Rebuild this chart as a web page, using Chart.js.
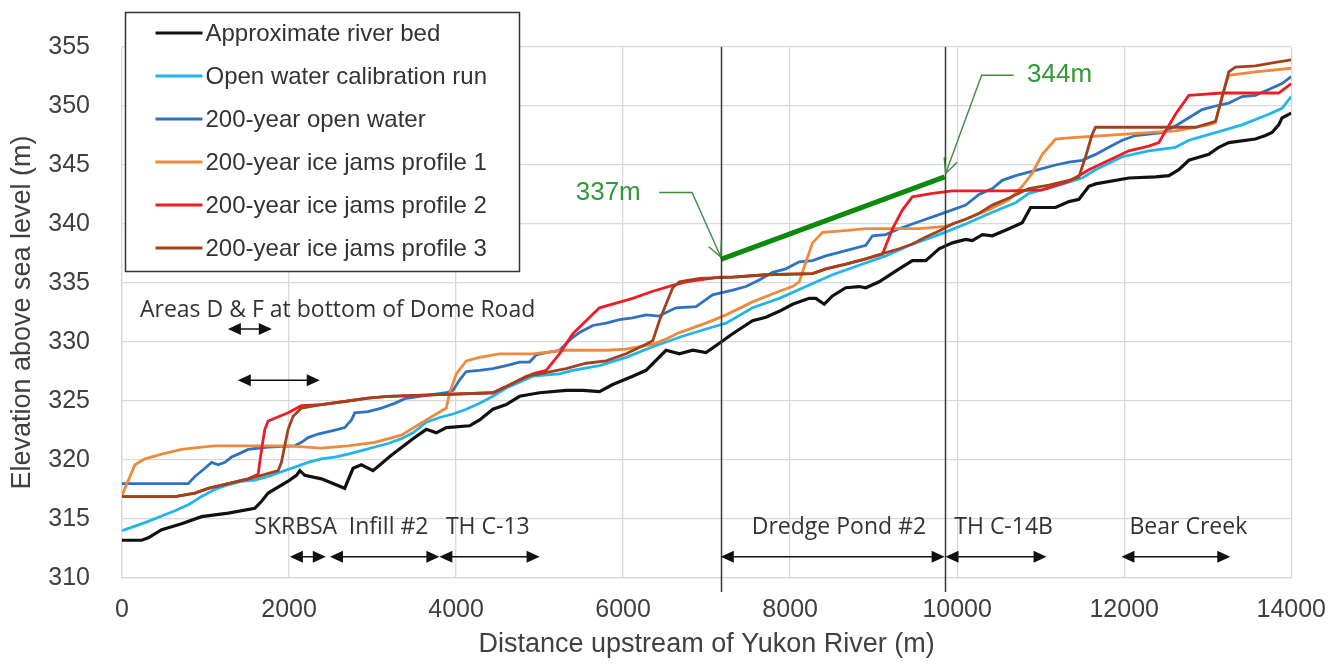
<!DOCTYPE html>
<html>
<head>
<meta charset="utf-8">
<script src="https://cdn.jsdelivr.net/npm/chart.js@4.4.1/dist/chart.umd.min.js"></script>
<style>
  html, body { margin: 0; padding: 0; background: #fff; }
</style>
</head>
<body>
<canvas id="profileChart" width="1343" height="665"></canvas>
<script>
// Series names (legend order)
const seriesNames = [
  'Approximate river bed',
  'Open water calibration run',
  '200-year open water',
  '200-year ice jams profile 1',
  '200-year ice jams profile 2',
  '200-year ice jams profile 3'
];
const seriesColors = ['#111111', '#22b4ec', '#2f72c2', '#ef8a3c', '#ee1c25', '#a3411c'];

// Approximate river bed
const bedDist = [0, 235, 315, 475, 714, 953, 1272, 1590, 1671, 1750, 1989, 2089, 2129, 2189, 2388, 2667, 2707, 2767, 2866, 3006, 3225, 3484, 3644, 3764, 3883, 4162, 4282, 4441, 4601, 4760, 4999, 5318, 5518, 5717, 5876, 6115, 6275, 6514, 6674, 6833, 6993, 7152, 7311, 7550, 7710, 7870, 8029, 8228, 8308, 8408, 8507, 8667, 8826, 8906, 9066, 9305, 9464, 9624, 9783, 9943, 10102, 10182, 10302, 10421, 10620, 10779, 10879, 11178, 11338, 11458, 11577, 11657, 12056, 12375, 12535, 12654, 12774, 13013, 13132, 13252, 13571, 13691, 13770, 13850, 13890, 14000];
const bedElev = [313.2, 313.2, 313.4, 314.1, 314.6, 315.2, 315.5, 315.9, 316.5, 317.2, 318.2, 318.7, 319.1, 318.7, 318.4, 317.6, 318.3, 319.3, 319.6, 319.1, 320.4, 321.8, 322.6, 322.3, 322.75, 322.9, 323.4, 324.3, 324.7, 325.4, 325.7, 325.9, 325.9, 325.8, 326.4, 327.1, 327.6, 329.3, 329.0, 329.3, 329.1, 329.9, 330.7, 331.8, 332.1, 332.6, 333.2, 333.7, 333.7, 333.2, 333.9, 334.6, 334.7, 334.6, 335.1, 336.2, 336.9, 336.9, 337.9, 338.4, 338.7, 338.6, 339.1, 339.0, 339.6, 340.1, 341.4, 341.4, 341.9, 342.1, 343.2, 343.4, 343.9, 344.0, 344.1, 344.6, 345.4, 345.9, 346.5, 346.9, 347.2, 347.5, 347.75, 348.4, 349.0, 349.4];

// Open water calibration run
const calibDist = [0, 155, 315, 475, 634, 793, 953, 1112, 1272, 1431, 1590, 1750, 1909, 2069, 2228, 2388, 2547, 2707, 2866, 3026, 3185, 3345, 3484, 3644, 3803, 3963, 4122, 4282, 4441, 4601, 4760, 4919, 5238, 5398, 5717, 6036, 6355, 6674, 6993, 7232, 7550, 7870, 8189, 8507, 8826, 9145, 9464, 9783, 10102, 10421, 10700, 10859, 11178, 11497, 11657, 11976, 12295, 12614, 12774, 13093, 13411, 13730, 13890, 14000];
const calibElev = [314.0, 314.4, 314.8, 315.25, 315.7, 316.2, 316.9, 317.5, 317.9, 318.2, 318.3, 318.6, 319.0, 319.4, 319.8, 320.1, 320.25, 320.5, 320.8, 321.1, 321.4, 321.8, 322.3, 323.2, 323.6, 323.9, 324.3, 324.8, 325.4, 326.1, 326.6, 327.1, 327.3, 327.6, 328.0, 328.7, 329.6, 330.4, 331.1, 331.6, 332.9, 333.7, 334.7, 335.7, 336.5, 337.3, 338.3, 339.1, 340.0, 341.0, 341.8, 342.6, 343.2, 343.9, 344.6, 345.7, 346.2, 346.5, 347.1, 347.75, 348.4, 349.3, 349.8, 350.8];

// 200-year open water
const openDist = [0, 793, 873, 993, 1073, 1152, 1232, 1312, 1391, 1511, 1750, 2069, 2149, 2228, 2348, 2587, 2667, 2747, 2787, 2946, 3106, 3265, 3385, 3564, 3883, 3963, 4043, 4122, 4282, 4441, 4601, 4760, 4880, 4959, 5079, 5238, 5398, 5478, 5637, 5797, 5956, 6115, 6275, 6434, 6514, 6634, 6873, 6953, 7072, 7311, 7471, 7630, 7790, 7949, 8109, 8268, 8428, 8587, 8747, 8906, 8986, 9145, 9305, 9464, 9624, 9783, 9943, 10102, 10262, 10421, 10540, 10700, 10859, 11178, 11338, 11497, 11657, 11816, 11976, 12136, 12455, 12614, 12774, 12933, 13093, 13252, 13411, 13571, 13730, 13890, 14000];
const openElev = [318.0, 318.0, 318.6, 319.3, 319.8, 319.6, 319.8, 320.25, 320.5, 320.9, 321.1, 321.2, 321.5, 321.9, 322.2, 322.6, 322.75, 323.4, 324.0, 324.1, 324.4, 324.8, 325.2, 325.4, 325.7, 325.9, 326.8, 327.5, 327.6, 327.75, 328.0, 328.3, 328.3, 328.9, 329.1, 329.3, 330.4, 330.8, 331.4, 331.6, 331.9, 332.05, 332.3, 332.2, 332.5, 332.9, 333.0, 333.4, 334.0, 334.4, 334.7, 335.25, 335.9, 336.2, 336.8, 336.9, 337.3, 337.6, 337.9, 338.2, 339.0, 339.1, 339.6, 340.0, 340.4, 340.8, 341.2, 341.6, 342.5, 343.0, 343.7, 344.1, 344.4, 345.0, 345.25, 345.4, 345.9, 346.5, 347.1, 347.5, 347.75, 348.3, 349.0, 349.7, 350.0, 350.25, 350.8, 350.9, 351.4, 351.9, 352.5];

// 200-year ice jams profile 1
const jam1Dist = [0, 155, 275, 475, 714, 953, 1112, 1511, 1989, 2388, 2707, 3026, 3345, 3644, 3883, 3923, 4003, 4122, 4282, 4521, 4919, 5318, 5797, 6036, 6195, 6355, 6514, 6674, 6833, 6993, 7232, 7550, 7870, 8029, 8109, 8189, 8268, 8388, 8587, 8906, 9225, 9544, 9863, 10102, 10381, 10620, 10779, 10899, 11019, 11178, 11338, 11976, 12614, 13013, 13093, 13172, 13252, 13571, 14000];
const jam1Elev = [317.0, 319.6, 320.1, 320.5, 320.9, 321.1, 321.2, 321.2, 321.2, 321.0, 321.2, 321.5, 322.1, 323.4, 324.4, 325.7, 327.3, 328.4, 328.7, 329.0, 329.0, 329.3, 329.3, 329.4, 329.6, 329.8, 330.25, 330.8, 331.2, 331.6, 332.3, 333.4, 334.3, 334.7, 335.1, 336.8, 338.4, 339.3, 339.4, 339.6, 339.6, 339.6, 339.8, 340.4, 341.2, 342.05, 343.2, 344.3, 345.9, 347.2, 347.3, 347.6, 347.9, 348.4, 348.6, 350.9, 352.6, 352.9, 353.2];

// 200-year ice jams profile 2
const jam2Dist = [0, 634, 873, 1032, 1272, 1511, 1630, 1671, 1710, 1750, 1989, 2149, 2388, 2707, 2946, 3185, 3624, 4441, 4680, 4919, 5079, 5238, 5398, 5557, 5717, 5916, 6115, 6355, 6594, 6754, 7152, 7311, 7710, 8268, 8428, 8667, 8906, 9106, 9225, 9345, 9464, 9703, 9943, 10620, 11019, 11338, 11577, 11816, 12056, 12295, 12415, 12614, 12774, 13172, 13850, 14000];
const jam2Elev = [316.9, 316.9, 317.2, 317.6, 318.0, 318.4, 318.8, 320.9, 322.6, 323.3, 324.0, 324.6, 324.7, 325.0, 325.25, 325.4, 325.5, 325.7, 326.5, 327.3, 327.6, 329.0, 330.7, 331.8, 332.9, 333.3, 333.7, 334.3, 334.8, 335.1, 335.5, 335.5, 335.7, 335.8, 336.2, 336.6, 337.05, 337.45, 339.6, 341.2, 342.3, 342.6, 342.8, 342.8, 342.9, 343.6, 344.6, 345.4, 346.2, 346.6, 346.9, 349.3, 350.9, 351.1, 351.1, 351.9];

// 200-year ice jams profile 3
const jam3Dist = [0, 634, 873, 1032, 1272, 1511, 1671, 1870, 1909, 1949, 1989, 2049, 2149, 2388, 2707, 2946, 3185, 3624, 4441, 4601, 4840, 4999, 5318, 5557, 5797, 6036, 6275, 6355, 6434, 6514, 6594, 6674, 6913, 7311, 7710, 8268, 8428, 8667, 8906, 9106, 9305, 9464, 9624, 9783, 9943, 10102, 10262, 10421, 10620, 10859, 11098, 11338, 11458, 11537, 11617, 11657, 12375, 12854, 13093, 13172, 13252, 13331, 13571, 13810, 14000];
const jam3Elev = [316.9, 316.9, 317.2, 317.6, 318.0, 318.4, 318.7, 319.1, 319.8, 321.2, 322.6, 323.7, 324.4, 324.7, 325.0, 325.25, 325.4, 325.5, 325.7, 326.2, 327.1, 327.3, 327.75, 328.2, 328.4, 329.0, 329.8, 330.1, 331.8, 333.2, 334.6, 335.1, 335.4, 335.5, 335.7, 335.8, 336.2, 336.6, 337.05, 337.5, 337.9, 338.3, 338.9, 339.4, 340.0, 340.4, 340.9, 341.6, 342.2, 343.0, 343.3, 343.7, 344.0, 345.7, 347.6, 348.2, 348.2, 348.2, 348.7, 350.7, 352.9, 353.3, 353.4, 353.7, 353.9];

// Green "flood level" line between the two vertical markers
const floodDist = [7170, 9850];
const floodElev = [337, 344];

// Vertical marker lines (m)
const markerDist = [7170, 9850];

// Reach labels along the bottom: [label, centre distance]
const reachLabels = ['SKRBSA', 'Infill #2', 'TH C-13', 'Dredge Pond #2', 'TH C-14B', 'Bear Creek'];
const reachLabelDist = [2080, 3192, 4380, 8584, 10556, 12768];
const reachLabelElev = 314.25;
// Reach extents shown with double-headed arrows
const reachStart = [2010, 2490, 3800, 7170, 9860, 11967];
const reachEnd = [2440, 3800, 5000, 9850, 11070, 13270];
const reachArrowElev = 311.8;

// Areas D & F label and its two arrows
const areaLabel = 'Areas D & F at bottom of Dome Road';
const areaLabelDist = 2582;
const areaLabelElev = 332.7;
const areaArrowStart = [1268, 1387];
const areaArrowEnd = [1794, 2368];
const areaArrowElev = [331.1, 326.75];

// Elevation call-outs: text position, then arrow path (dist, elev)
const calloutText = ['337m', '344m'];
const calloutTextDist = [5822, 11226];
const calloutTextElev = [342.67, 352.67];
const calloutPathDist = [[6432, 6826, 7170], [10676, 10293, 9863]];
const calloutPathElev = [[342.67, 342.67, 337.2], [352.6, 352.6, 344.3]];

const allDist = [bedDist, calibDist, openDist, jam1Dist, jam2Dist, jam3Dist];
const allElev = [bedElev, calibElev, openElev, jam1Elev, jam2Elev, jam3Elev];

function toPoints(xs, ys) {
  return xs.map((x, i) => ({ x: x, y: ys[i] }));
}

const datasets = seriesNames.map((name, i) => ({
  label: name,
  data: toPoints(allDist[i], allElev[i]),
  borderColor: seriesColors[i],
  borderWidth: i === 0 ? 3.2 : 2.8,
  pointRadius: 0,
  tension: 0,
  fill: false,
  order: 10 - i // later series drawn on top, like the original
}));

datasets.push({
  label: 'flood',
  data: toPoints(floodDist, floodElev),
  borderColor: '#0b8a0b',
  borderWidth: 5,
  pointRadius: 0,
  fill: false,
  order: 0
});

function fillArrowHead(ctx, tipX, tipY, dir) {
  ctx.beginPath();
  ctx.moveTo(tipX, tipY);
  ctx.lineTo(tipX - dir * 13, tipY - 6);
  ctx.lineTo(tipX - dir * 13, tipY + 6);
  ctx.closePath();
  ctx.fill();
}

function doubleArrow(ctx, x1, x2, py) {
  ctx.beginPath();
  ctx.moveTo(x1 + 4, py);
  ctx.lineTo(x2 - 4, py);
  ctx.stroke();
  fillArrowHead(ctx, x1, py, -1);
  fillArrowHead(ctx, x2, py, 1);
}

// Draws markers, arrows, labels and the legend box
const overlayPlugin = {
  id: 'overlay',
  afterDatasetsDraw(chart) {
    const { ctx, chartArea } = chart;
    const xs = chart.scales.x;
    const ys = chart.scales.y;
    ctx.save();

    // vertical marker lines
    ctx.strokeStyle = '#3a3a3a';
    ctx.lineWidth = 1.5;
    markerDist.forEach(d => {
      const px = Math.round(xs.getPixelForValue(d)) + 0.5;
      ctx.beginPath();
      ctx.moveTo(px, chartArea.top);
      ctx.lineTo(px, chartArea.bottom + 14);
      ctx.stroke();
    });

    // reach arrows + labels
    ctx.strokeStyle = '#111';
    ctx.fillStyle = '#111';
    ctx.lineWidth = 1.5;
    const ay = ys.getPixelForValue(reachArrowElev);
    reachStart.forEach((s, i) => {
      doubleArrow(ctx, xs.getPixelForValue(s), xs.getPixelForValue(reachEnd[i]), ay);
    });
    areaArrowStart.forEach((s, i) => {
      doubleArrow(ctx, xs.getPixelForValue(s), xs.getPixelForValue(areaArrowEnd[i]), ys.getPixelForValue(areaArrowElev[i]));
    });

    ctx.fillStyle = '#333';
    ctx.font = '23px "Open Sans"';
    ctx.textAlign = 'center';
    ctx.textBaseline = 'middle';
    reachLabels.forEach((t, i) => {
      ctx.fillText(t, xs.getPixelForValue(reachLabelDist[i]), ys.getPixelForValue(reachLabelElev));
    });
    ctx.fillText(areaLabel, xs.getPixelForValue(areaLabelDist), ys.getPixelForValue(areaLabelElev));

    // elevation call-outs
    ctx.strokeStyle = '#3f8a3f';
    ctx.lineWidth = 1.4;
    calloutPathDist.forEach((path, k) => {
      const pts = path.map((d, j) => [xs.getPixelForValue(d), ys.getPixelForValue(calloutPathElev[k][j])]);
      ctx.beginPath();
      pts.forEach((p, j) => j ? ctx.lineTo(p[0], p[1]) : ctx.moveTo(p[0], p[1]));
      ctx.stroke();
      const tip = pts[pts.length - 1];
      const prev = pts[pts.length - 2];
      const ang = Math.atan2(tip[1] - prev[1], tip[0] - prev[0]);
      [-0.45, 0.45].forEach(off => {
        ctx.beginPath();
        ctx.moveTo(tip[0], tip[1]);
        ctx.lineTo(tip[0] - 16 * Math.cos(ang + off), tip[1] - 16 * Math.sin(ang + off));
        ctx.stroke();
      });
    });
    ctx.fillStyle = '#2f9a36';
    ctx.font = '26px "Liberation Sans", Arial, sans-serif';
    calloutText.forEach((t, i) => {
      ctx.fillText(t, xs.getPixelForValue(calloutTextDist[i]), ys.getPixelForValue(calloutTextElev[i]));
    });

    // legend box
    const bx = chartArea.left + 3.5;
    const by = 12.5;
    ctx.fillStyle = '#fff';
    ctx.fillRect(bx, by, 394, 259);
    ctx.strokeStyle = '#333';
    ctx.lineWidth = 1.5;
    ctx.strokeRect(bx, by, 394, 259);
    ctx.font = '24px "Liberation Sans", Arial, sans-serif';
    ctx.textAlign = 'left';
    seriesNames.forEach((name, i) => {
      const ry = 33 + i * 43;
      ctx.strokeStyle = seriesColors[i];
      ctx.lineWidth = 3;
      ctx.beginPath();
      ctx.moveTo(bx + 30, ry);
      ctx.lineTo(bx + 77, ry);
      ctx.stroke();
      ctx.fillStyle = '#333';
      ctx.fillText(name, bx + 80, ry + 1);
    });
    ctx.restore();
  }
};

const gridColor = '#d9d9d9';
const textColor = '#404040';

new Chart(document.getElementById('profileChart'), {
  type: 'line',
  data: { datasets: datasets },
  options: {
    responsive: false,
    devicePixelRatio: 1,
    animation: false,
    layout: { padding: { top: 38, right: 50, left: 0, bottom: 0 } },
    plugins: {
      legend: { display: false },
      tooltip: { enabled: false }
    },
    scales: {
      x: {
        type: 'linear',
        min: 0,
        max: 14000,
        ticks: {
          stepSize: 2000,
          color: textColor,
          font: { family: 'Liberation Sans', size: 25 },
          padding: 17,
          maxRotation: 0,
          callback: v => String(v)
        },
        grid: { color: gridColor, lineWidth: 1.3, drawTicks: false },
        border: { color: gridColor, width: 1.3 },
        title: {
          display: true,
          text: 'Distance upstream of Yukon River (m)',
          color: textColor,
          font: { family: 'Liberation Sans', size: 27 },
          padding: { top: 0, bottom: 4 }
        },
        afterFit(scale) { scale.height = 87; }
      },
      y: {
        min: 310,
        max: 355,
        ticks: {
          stepSize: 5,
          color: textColor,
          font: { family: 'Liberation Sans', size: 25 },
          padding: 32
        },
        grid: { color: gridColor, lineWidth: 1.3, drawTicks: false },
        border: { color: gridColor, width: 1.3 },
        title: {
          display: true,
          text: 'Elevation above sea level (m)',
          color: textColor,
          font: { family: 'Liberation Sans', size: 27 },
          padding: { top: 6, bottom: 0 }
        },
        afterFit(scale) { scale.width = 122; }
      }
    }
  },
  plugins: [overlayPlugin]
});
</script>
</body>
</html>
